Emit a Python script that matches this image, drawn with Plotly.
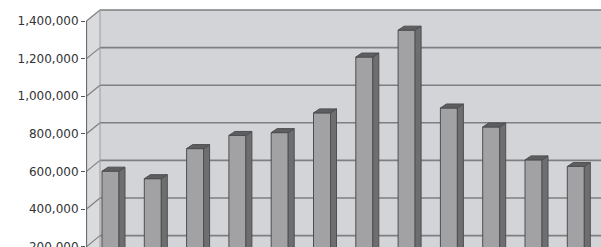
import plotly.graph_objects as go

# ---- data ----
categories = ["Jan", "Feb", "Mar", "Apr", "May", "Jun",
              "Jul", "Aug", "Sep", "Oct", "Nov", "Dec"]
values = [580000, 540000, 700000, 770000, 785000, 890000,
          1187000, 1330000, 916000, 815000, 640000, 605000]
tick_vals = [200000, 400000, 600000, 800000, 1000000, 1200000, 1400000]
tick_text = ["200,000", "400,000", "600,000", "800,000",
             "1,000,000", "1,200,000", "1,400,000"]

# ---- geometry (pixels) ----
W, H = 601, 247
ML = 86
PX_PER_200K = 37.6
VPP = 200000 / PX_PER_200K          # value per pixel
TOP_TICK_PX = 21                    # pixel y of 1,400,000 front tick
CAT_PX = 42.3                       # pixels per category
FIRST_CENTER_PX = 110.5
WALL_DX_PX, WALL_DY_PX = 14, 11
BAR_W_PX = 17
BAR_DX_PX, BAR_DY_PX = 6, 4
BAR_SHIFT_PX = 4

ymax_tick = tick_vals[-1]
y_top = ymax_tick + TOP_TICK_PX * VPP
y_bot = y_top - H * VPP
x0 = -(FIRST_CENTER_PX - ML) / CAT_PX
x1 = x0 + (W - ML) / CAT_PX
wdx = WALL_DX_PX / CAT_PX
wdy = WALL_DY_PX * VPP
eps = 0.5 / CAT_PX
bw = BAR_W_PX / CAT_PX
bdx = BAR_DX_PX / CAT_PX
bdy = BAR_DY_PX * VPP
shift = BAR_SHIFT_PX * VPP

idx = list(range(len(categories)))

fig = go.Figure()

# front faces
fig.add_trace(go.Bar(
    x=idx, y=values, width=bw, yaxis="y3",
    marker=dict(color="#a2a2a4", line=dict(color="#4f4f51", width=1)),
    hoverinfo="skip"))

# side faces and tops
sx, sy, tx, ty = [], [], [], []
for i, v in zip(idx, values):
    xl, xr = i - bw / 2, i + bw / 2
    sx += [xr, xr + bdx, xr + bdx, xr, xr, None]
    sy += [v, v + bdy, 0 + bdy, 0, v, None]
    tx += [xl, xl + bdx, xr + bdx, xr, xl, None]
    ty += [v, v + bdy, v + bdy, v, v, None]
fig.add_trace(go.Scatter(x=sx, y=sy, yaxis="y3", mode="lines", fill="toself",
                         fillcolor="#6e6e70", line=dict(color="#4f4f51", width=1),
                         hoverinfo="skip"))
fig.add_trace(go.Scatter(x=tx, y=ty, yaxis="y3", mode="lines", fill="toself",
                         fillcolor="#5e5e60", line=dict(color="#4f4f51", width=1),
                         hoverinfo="skip"))

shapes = []
# back wall
shapes.append(dict(type="rect", xref="x", yref="y", layer="below",
                   x0=x0 + wdx, x1=x1, y0=y_bot, y1=ymax_tick + wdy,
                   fillcolor="#d3d4d8", line=dict(width=0)))
# side wall
shapes.append(dict(type="path", xref="x", yref="y", layer="below",
                   path=f"M {x0} {ymax_tick} L {x0 + wdx} {ymax_tick + wdy} "
                        f"L {x0 + wdx} {y_bot} L {x0} {y_bot} Z",
                   fillcolor="#dadbdd", line=dict(width=0)))
# gridlines on back and side walls
for v in tick_vals:
    shapes.append(dict(type="line", xref="x", yref="y", layer="below",
                       x0=x0 + wdx, x1=x1, y0=v + wdy, y1=v + wdy,
                       line=dict(color="#7e7f82", width=1.6)))
    shapes.append(dict(type="line", xref="x", yref="y", layer="below",
                       x0=x0 + eps, x1=x0 + wdx, y0=v, y1=v + wdy,
                       line=dict(color="#7e7f82", width=1.2)))
# wall corner edge
shapes.append(dict(type="line", xref="x", yref="y", layer="below",
                   x0=x0 + wdx, x1=x0 + wdx, y0=y_bot, y1=ymax_tick + wdy,
                   line=dict(color="#9a9b9e", width=1)))
# front axis line
shapes.append(dict(type="line", xref="x", yref="y", layer="below",
                   x0=x0 + eps, x1=x0 + eps, y0=y_bot, y1=ymax_tick,
                   line=dict(color="#6a6a6c", width=1.2)))

fig.update_layout(
    width=W, height=H,
    margin=dict(l=ML, r=0, t=0, b=0, pad=0, autoexpand=False),
    paper_bgcolor="white", plot_bgcolor="rgba(0,0,0,0)",
    showlegend=False, hovermode=False, bargap=0,
    shapes=shapes,
    xaxis=dict(range=[x0, x1], visible=False, fixedrange=True,
               automargin=False),
    yaxis=dict(range=[y_bot, y_top], tickvals=tick_vals, ticktext=tick_text,
               showgrid=False, zeroline=False, showline=False,
               automargin=False, ticklabeloverflow="allow",
               ticks="outside", ticklen=4, tickcolor="#555557", tickwidth=1,
               tickfont=dict(family="DejaVu Sans", size=12,
                             color="#333335"),
               fixedrange=True),
    yaxis3=dict(range=[y_bot - shift, y_top - shift], overlaying="y",
                visible=False, fixedrange=True, automargin=False),
)

fig.write_html(
    "out.html",
    config={"displayModeBar": False, "staticPlot": True},
    post_script="document.body.style.margin='0';document.body.style.overflow='hidden';",
)
